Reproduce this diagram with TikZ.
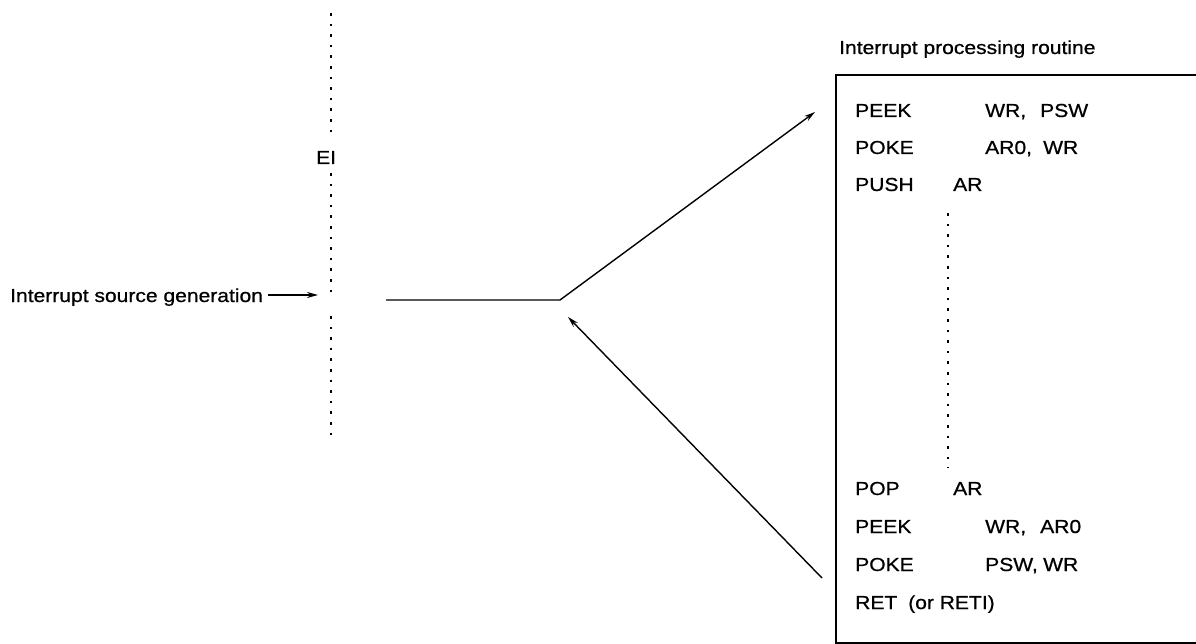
\documentclass[tikz,border=0pt]{standalone}
\usepackage{fontspec}
\setmainfont{Liberation Sans}[FakeStretch=1.12,FakeBold=0.7]
\usetikzlibrary{arrows.meta}
\begin{document}
\begin{tikzpicture}[x=1pt,y=-1pt,
  txt/.style={inner sep=0pt,anchor=base west,font=\fontsize{18.8}{22}\selectfont},
  dotline/.style={line width=2.6pt,dash pattern=on 2.6pt off 8pt},
  conn/.style={line width=1.4pt},
  arr/.style={conn,-{Stealth[length=11pt,width=6pt]}},
  boxline/.style={line width=2.8pt}]
\useasboundingbox (0,0) rectangle (1196,644);
\clip (0,0) rectangle (1196,644);
% dotted EI line
\coordinate (d1) at (331,13);
\coordinate (d2) at (331,140);
\coordinate (d3) at (331,173);
\coordinate (d4) at (331,296);
\coordinate (d5) at (331,316);
\coordinate (d6) at (331,436);
\draw[dotline] (d1) -- (d2);
\draw[dotline] (d3) -- (d4);
\draw[dotline] (d5) -- (d6);
\node[txt] (ei) at (316,164) {EI};
% source
\node[txt] (src) at (10,302) {Interrupt source generation};
\coordinate (srctip) at (318,295);
\draw[arr] (src.east |- srctip) ++(5,0) -- (srctip);
% main flow
\coordinate (h1) at (386,300);
\coordinate (junc) at (560,300);
\coordinate (tipB) at (815,112);
\draw[arr] (h1) -- (junc) -- (tipB);
\coordinate (s2) at (822,578);
\coordinate (tipC) at (568,317);
\draw[arr] (s2) -- (tipC);
% box
\node[txt] (title) at (839,54) {Interrupt processing routine};
\draw[boxline] (1205,75) -- (836,75) -- (836,643.5) -- (1205,643.5);
% instructions
\node[txt] (m1) at (855,117) {PEEK};
\node[txt] (o1) at (985,117) {\makebox[55pt][l]{WR,}PSW};
\node[txt] (m2) at (855,154) {POKE};
\node[txt] (o2) at (985,154) {\makebox[58pt][l]{AR0,}WR};
\node[txt] (m3) at (855,191) {PUSH};
\node[txt] (o3) at (953,191) {AR};
\coordinate (v1) at (948,213);
\coordinate (v2) at (948,468);
\draw[dotline] (v1) -- (v2);
\node[txt] (m4) at (855,495) {POP};
\node[txt] (o4) at (953,495) {AR};
\node[txt] (m5) at (855,533) {PEEK};
\node[txt] (o5) at (985,533) {\makebox[55pt][l]{WR,}AR0};
\node[txt] (m6) at (855,571) {POKE};
\node[txt] (o6) at (985,571) {\makebox[58pt][l]{PSW,}WR};
\node[txt] (m7) at (855,609) {RET};
\node[txt] (o7) at (908,609) {(or RETI)};
\end{tikzpicture}
\end{document}
